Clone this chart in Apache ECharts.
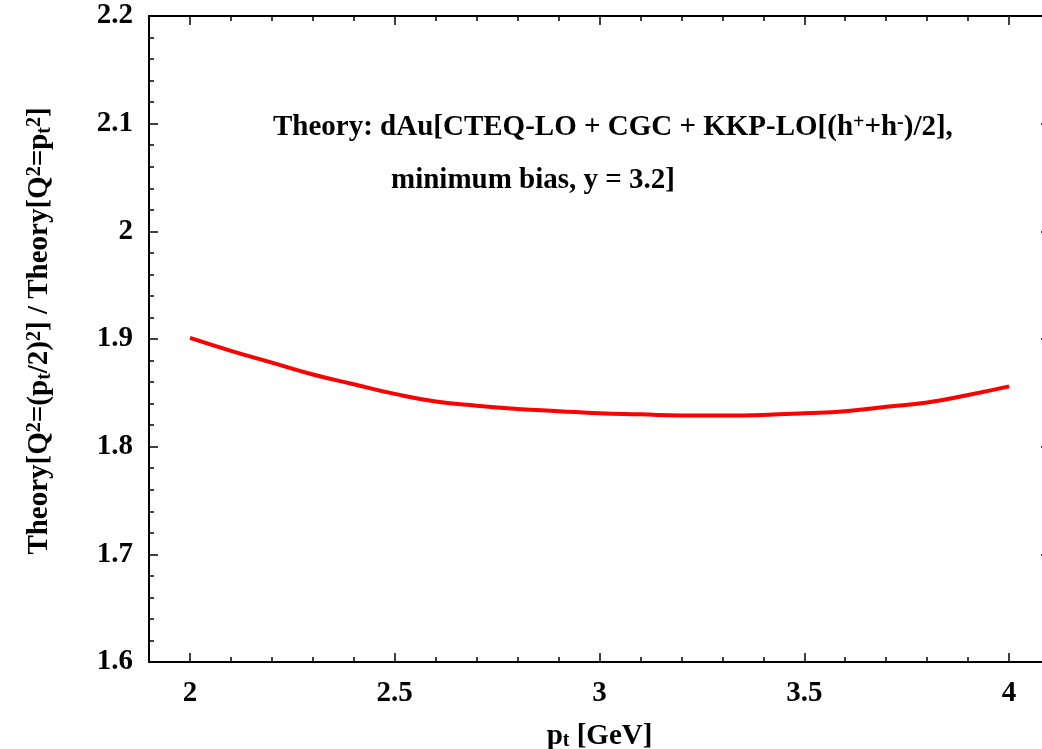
<!DOCTYPE html>
<html>
<head>
<meta charset="utf-8">
<script src="https://cdn.jsdelivr.net/npm/echarts@6/dist/echarts.min.js"></script>
<style>html,body{margin:0;padding:0;background:#fff;}#c{width:1042px;height:749px;}</style>
</head>
<body>
<div id="c"></div>
<script>
const ptValues = [2.0, 2.1, 2.2, 2.3, 2.4, 2.5, 2.6, 2.7, 2.8, 2.9, 3.0, 3.1, 3.2, 3.3, 3.4, 3.5, 3.6, 3.7, 3.8, 3.9, 4.0];
const ratioValues = [1.901, 1.889, 1.878, 1.867, 1.858, 1.849, 1.842, 1.838, 1.835, 1.833, 1.831, 1.830, 1.829, 1.829, 1.8295, 1.831, 1.833, 1.837, 1.841, 1.848, 1.856];
const xMajorTicks = [2, 2.5, 3, 3.5, 4];

const FONT = "'Liberation Serif', 'Times New Roman', serif";
const FS = 29;
const chart = echarts.init(document.getElementById('c'));
const data = ptValues.map((x, i) => [x, ratioValues[i]]);

const richBase = {
  n: { fontFamily: FONT, fontWeight: 'bold', fontSize: FS, color: '#000' },
  sup: { fontFamily: FONT, fontWeight: 'bold', fontSize: 20, color: '#000', verticalAlign: 'top', padding: [0, 0, 10, 0] },
  sub: { fontFamily: FONT, fontWeight: 'bold', fontSize: 20, color: '#000', verticalAlign: 'bottom', padding: [8, 0, 0, 0] }
};

const axisLineStyle = { color: '#000', width: 2 };
const tickStyle = { color: '#000', width: 1.5 };

function xMinor(pos) {
  return {
    type: 'value', position: pos, min: 1.9, max: 4.1, interval: 0.1,
    axisLine: { show: true, onZero: false, lineStyle: axisLineStyle },
    axisTick: { show: true, inside: true, length: 5, lineStyle: tickStyle },
    axisLabel: { show: false }, splitLine: { show: false }
  };
}
function xMajor(pos, labels) {
  const ax = {
    type: 'value', position: pos, min: 1.9, max: 4.1, interval: 0.1,
    axisLine: { show: false, onZero: false },
    axisTick: { show: true, inside: true, length: 9, lineStyle: tickStyle, customValues: xMajorTicks },
    axisLabel: labels ? { show: true, customValues: xMajorTicks, margin: 17, fontFamily: FONT, fontWeight: 'bold', fontSize: FS, color: '#000' } : { show: false },
    splitLine: { show: false }
  };
  if (labels) {
    ax.name = '{n|p}{sub|t}{n| [GeV]}';
    ax.nameLocation = 'middle';
    ax.nameGap = 60;
    ax.nameTextStyle = { rich: richBase };
  }
  return ax;
}
function yAx(pos, labels) {
  const ax = {
    type: 'value', position: pos, min: 1.6, max: 2.2, interval: 0.1,
    axisLine: { show: true, onZero: false, lineStyle: axisLineStyle },
    axisTick: { show: true, inside: true, length: 9, lineStyle: tickStyle },
    minorTick: { show: true, splitNumber: 5, length: 5, lineStyle: tickStyle },
    axisLabel: labels ? { show: true, margin: 16, padding: [5, 0, 0, 0], fontFamily: FONT, fontWeight: 'bold', fontSize: FS, color: '#000' } : { show: false },
    splitLine: { show: false }
  };
  if (labels) {
    ax.name = '{n|Theory[Q}{sup|2}{n|=(p}{sub|t}{n|/2)}{sup|2}{n|] / Theory[Q}{sup|2}{n|=p}{sub|t}{sup|2}{n|]}';
    ax.nameLocation = 'middle';
    ax.nameGap = 94;
    ax.nameTextStyle = { rich: richBase, padding: [0, 0, 0, 16] };
  }
  return ax;
}

chart.setOption({
  animation: false,
  backgroundColor: '#fff',
  grid: { left: 149, top: 16, width: 901, height: 646, containLabel: false, outerBoundsMode: 'none' },
  xAxis: [xMinor('bottom'), xMajor('bottom', true), xMinor('top'), xMajor('top', false)],
  yAxis: [yAx('left', true), yAx('right', false)],
  graphic: [
    { type: 'text', left: 273, top: 113, style: { text: '{n|Theory: dAu[CTEQ-LO + CGC + KKP-LO[(h}{sup|+}{n|+h}{sup|-}{n|)/2],}', rich: richBase } },
    { type: 'text', left: 391, top: 166, style: { text: '{n|minimum bias, y = 3.2]}', rich: richBase } }
  ],
  series: [{
    type: 'line', data: data, xAxisIndex: 0, yAxisIndex: 0,
    smooth: true, showSymbol: false, symbol: 'none',
    lineStyle: { color: '#ff0000', width: 4 }
  }]
});
</script>
</body>
</html>
